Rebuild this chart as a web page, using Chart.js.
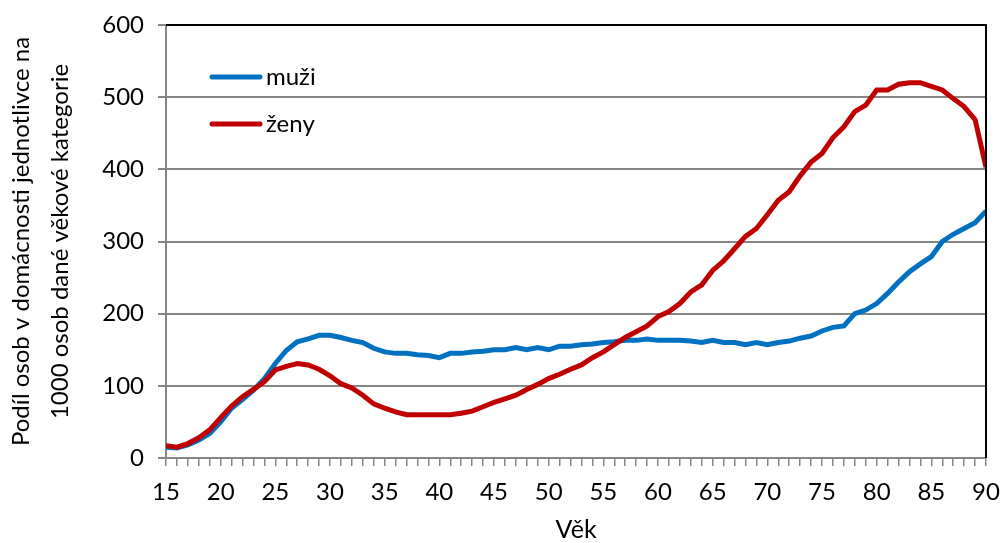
<!DOCTYPE html>
<html>
<head>
  <title>Domácnosti jednotlivců</title>
  <style>
    body {
      margin: 0;
      background: #fff;
    }
    #wrap {
      width: 1000px;
      height: 543px;
    }
  </style>
</head>
<body>
  <div id="wrap"><canvas id="chartContainer"></canvas></div>

  <script src="https://cdn.jsdelivr.net/npm/chart.js@4/dist/chart.umd.min.js"></script>

  <script>
    const ages = [15, 16, 17, 18, 19, 20, 21, 22, 23, 24, 25, 26, 27, 28, 29, 30, 31, 32, 33, 34,
      35, 36, 37, 38, 39, 40, 41, 42, 43, 44, 45, 46, 47, 48, 49, 50, 51, 52, 53, 54,
      55, 56, 57, 58, 59, 60, 61, 62, 63, 64, 65, 66, 67, 68, 69, 70, 71, 72, 73, 74,
      75, 76, 77, 78, 79, 80, 81, 82, 83, 84, 85, 86, 87, 88, 89, 90];

    const muzi = [15, 14, 18, 25, 34, 50, 69, 81, 94, 110, 131, 149, 161, 165, 170, 170, 167, 163, 160, 152,
      147, 145, 145, 143, 142, 139, 145, 145, 147, 148, 150, 150, 153, 150, 153, 150, 155, 155, 157, 158,
      160, 161, 163, 163, 165, 163, 163, 163, 162, 160, 163, 160, 160, 157, 160, 157, 160, 162, 166, 169,
      176, 181, 183, 200, 205, 214, 228, 244, 258, 269, 279, 300, 310, 318, 326, 342];

    const zeny = [17, 15, 20, 28, 39, 56, 72, 85, 95, 106, 122, 127, 131, 129, 123, 114, 103, 97, 87, 75,
      69, 64, 60, 60, 60, 60, 60, 62, 65, 71, 77, 82, 87, 95, 102, 110, 116, 123, 129, 139,
      147, 157, 167, 175, 183, 196, 203, 214, 230, 240, 260, 273, 290, 307, 318, 337, 357, 369, 391, 410,
      422, 444, 459, 480, 489, 510, 510, 518, 520, 520, 515, 510, 498, 487, 469, 403];

    const seriesLabels = ['muži', 'ženy'];
    const seriesColors = ['#0070C0', '#C00000'];
    const yTitle = ['Podíl osob v domácnosti jednotlivce na', '1000 osob dané věkové kategorie'];
    const xTitle = 'Věk';

    const font = 'Lato, "Open Sans", sans-serif';
    const axisGray = '#868686';

    function toPoints(values) {
      return ages.map((a, i) => ({ x: a, y: values[i] }));
    }

    // legend inside the plot + black top/right frame like the original
    const frameAndLegend = {
      id: 'frameAndLegend',
      afterDraw(chart) {
        const ctx = chart.ctx;
        const area = chart.chartArea;
        ctx.save();
        ctx.strokeStyle = '#000';
        ctx.lineWidth = 2;
        ctx.beginPath();
        ctx.moveTo(area.left, area.top);
        ctx.lineTo(area.right, area.top);
        ctx.lineTo(area.right, area.bottom);
        ctx.stroke();

        ctx.font = '24px ' + font;
        ctx.textBaseline = 'middle';
        ctx.lineCap = 'round';
        chart.data.datasets.forEach((ds, i) => {
          const y = 77 + i * 47;
          ctx.strokeStyle = ds.borderColor;
          ctx.lineWidth = 5;
          ctx.beginPath();
          ctx.moveTo(212, y);
          ctx.lineTo(260, y);
          ctx.stroke();
          ctx.fillStyle = '#000';
          ctx.fillText(ds.label, 266, y);
        });
        ctx.restore();
      }
    };

    const ctx = document.getElementById('chartContainer').getContext('2d');

    window.myChart = new Chart(ctx, {
      type: 'line',
      data: {
        datasets: [{
          label: seriesLabels[0],
          data: toPoints(muzi),
          borderColor: seriesColors[0],
          borderWidth: 5,
          pointRadius: 0,
          tension: 0,
          order: 1
        }, {
          label: seriesLabels[1],
          data: toPoints(zeny),
          borderColor: seriesColors[1],
          borderWidth: 5,
          pointRadius: 0,
          tension: 0,
          order: 0
        }]
      },
      options: {
        responsive: true,
        maintainAspectRatio: false,
        devicePixelRatio: 1,
        animation: false,
        layout: {
          padding: { top: 25, right: 14, left: 0, bottom: 0 }
        },
        plugins: {
          legend: { display: false },
          tooltip: { enabled: false }
        },
        scales: {
          x: {
            type: 'linear',
            min: 15,
            max: 90,
            afterFit: s => {
              s.height = 85;
              s.paddingLeft = 0;
              s.paddingRight = 0;
            },
            ticks: {
              stepSize: 1,
              autoSkip: false,
              maxRotation: 0,
              padding: 12,
              color: '#000',
              font: { family: font, size: 24 },
              callback: v => (v % 5 === 0 ? v : '')
            },
            grid: {
              drawOnChartArea: false,
              drawTicks: true,
              tickLength: 8,
              color: axisGray,
              lineWidth: 1.5
            },
            border: { color: axisGray, width: 2 },
            title: {
              display: true,
              text: xTitle,
              color: '#000',
              font: { family: font, size: 25, lineHeight: 1 },
              padding: { top: 0, bottom: 1 }
            }
          },
          y: {
            min: 0,
            max: 600,
            afterFit: s => {
              s.width = 166;
              s.paddingTop = 0;
              s.paddingBottom = 0;
            },
            ticks: {
              stepSize: 100,
              padding: 14,
              color: '#000',
              font: { family: font, size: 24 }
            },
            grid: {
              color: axisGray,
              lineWidth: 2,
              tickLength: 8
            },
            border: { color: axisGray, width: 2 },
            title: {
              display: true,
              text: yTitle,
              color: '#000',
              font: { family: font, size: 24, lineHeight: 1.62 },
              padding: { top: 2, bottom: 0 }
            }
          }
        }
      },
      plugins: [frameAndLegend]
    });
  </script>
</body>
</html>
